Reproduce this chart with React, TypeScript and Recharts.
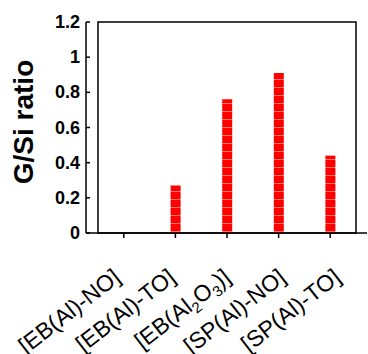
import React from "react";
import { BarChart, Bar, XAxis, YAxis, ReferenceArea } from "recharts";

const categories = ["[EB(Al)-NO]", "[EB(Al)-TO]", "[EB(Al2O3)]", "[SP(Al)-NO]", "[SP(Al)-TO]"];
const ratios = [0, 0.27, 0.76, 0.91, 0.44];
const yTicks = [0, 0.2, 0.4, 0.6, 0.8, 1, 1.2];

const data = categories.map((name, i) => ({ name, ratio: ratios[i] }));

const FONT = "Arial, 'Liberation Sans', Helvetica, sans-serif";

// splits "Al2O3" style digits into subscripts
const renderLabel = (label: string) => {
  const parts = label.split(/(?<=[A-Za-z])(\d)/);
  const out: any[] = [];
  let sub = false;
  parts.forEach((p, i) => {
    if (!p) return;
    if (/^\d$/.test(p)) {
      out.push(
        <tspan key={i} dy={sub ? 0 : 5} fontSize={15}>
          {p}
        </tspan>
      );
      sub = true;
    } else {
      out.push(
        <tspan key={i} dy={sub ? -5 : 0}>
          {p}
        </tspan>
      );
      sub = false;
    }
  });
  return out;
};

const RenderTickX = (props: any) => {
  const { x, y, payload, index } = props;
  // labels in the original fan out a little wider than the ticks
  const tx = x + 5 + (index - 2) * 3.5;
  const ty = y + 40;
  return (
    <text
      x={tx}
      y={ty}
      transform={`rotate(-38, ${tx}, ${ty})`}
      textAnchor="end"
      fontSize={23}
      fontFamily={FONT}
      fill="#000"
    >
      {renderLabel(payload.value)}
    </text>
  );
};

const RenderTickY = (props: any) => {
  const { x, y, payload } = props;
  return (
    <g>
      <line x1={x} x2={x + 4} y1={y} y2={y} stroke="#000" strokeWidth={1.5} />
      <text
        x={x - 6}
        y={y}
        dy={6}
        textAnchor="end"
        fontSize={18}
        fontWeight="bold"
        fontFamily={FONT}
        fill="#000"
      >
        {payload.value}
      </text>
    </g>
  );
};

const YLabel = () => (
  <text
    x={33}
    y={122}
    transform="rotate(-90, 33, 122)"
    textAnchor="middle"
    fontSize={28}
    fontWeight="bold"
    fontFamily={FONT}
    fill="#000"
  >
    G/Si ratio
  </text>
);

export default function App() {
  return (
    <div style={{ position: "absolute", left: 0, top: 0, background: "#fff" }}>
      <BarChart
        width={368}
        height={354}
        data={data}
        margin={{ top: 22, right: 1, left: 0, bottom: 0 }}
      >
        <defs>
          <pattern id="stripes" patternUnits="userSpaceOnUse" width={12} height={8}>
            <rect x={0} y={0} width={12} height={8} fill="#FF0000" />
            <rect x={0} y={7} width={12} height={1} fill="#FF7070" />
          </pattern>
        </defs>
        <XAxis
          dataKey="name"
          height={121}
          interval={0}
          padding={{ left: 12, right: 11 }}
          axisLine={{ stroke: "#000", strokeWidth: 1.5 }}
          tickLine={{ stroke: "#000", strokeWidth: 1.5 }}
          tickSize={5}
          tick={<RenderTickX />}
        />
        <YAxis
          width={86}
          domain={[0, 1.2]}
          ticks={yTicks}
          interval={0}
          tickSize={0}
          tickMargin={0}
          axisLine={{ stroke: "#000", strokeWidth: 1.5 }}
          tickLine={false}
          tick={<RenderTickY />}
          label={<YLabel />}
        />
        <ReferenceArea
          y1={0}
          y2={1.2}
          fill="none"
          fillOpacity={0}
          stroke="#000"
          strokeWidth={1.5}
          ifOverflow="visible"
        />
        <Bar dataKey="ratio" fill="url(#stripes)" barSize={10} isAnimationActive={false} />
      </BarChart>
    </div>
  );
}
